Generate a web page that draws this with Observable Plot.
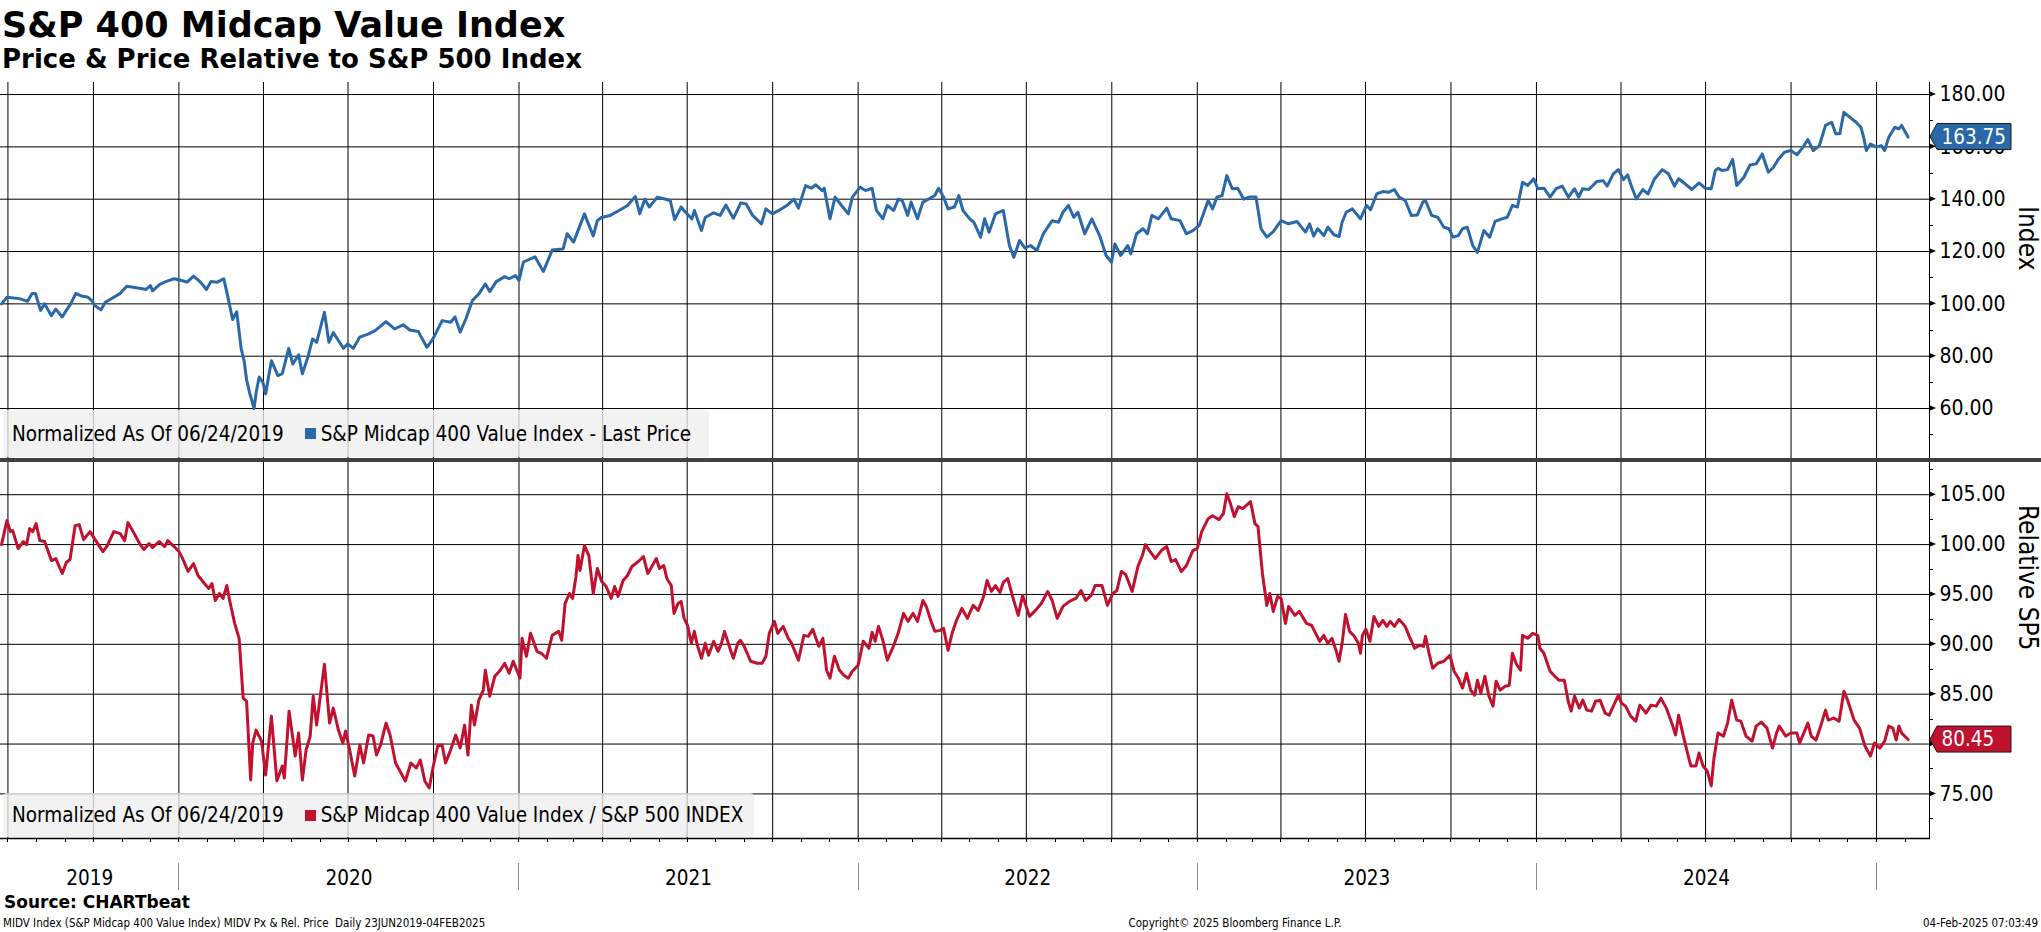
<!DOCTYPE html>
<html>
<head>
<meta charset="utf-8">
<script src="https://cdn.jsdelivr.net/npm/d3@7"></script>
<script src="https://cdn.jsdelivr.net/npm/@observablehq/plot@0.6"></script>
<style>
  html, body { margin: 0; padding: 0; background: #fff; overflow: hidden; }
  #page { position: relative; width: 2041px; height: 932px; background: #fff; }
  .abs { position: absolute; white-space: pre; line-height: 1; color: #000; }
  .cond { font-family: "DejaVu Sans Condensed", "DejaVu Sans", sans-serif; font-stretch: condensed; }
  .bold { font-family: "DejaVu Sans", sans-serif; font-weight: bold; }
  .legend { position: absolute; background: rgba(238,238,238,0.78); border-radius: 4px; display: flex; align-items: center; }
  .legend .sw { display: inline-block; width: 11px; height: 11px; margin: 0 5px 0 21px; }
  #page svg { position: absolute; left: 0; max-width: none; }
</style>
</head>
<body>
<div id="page">
  <div class="abs bold" style="left:2px; top:7.7px; font-size:35px;">S&amp;P 400 Midcap Value Index</div>
  <div class="abs bold" style="left:2px; top:46.3px; font-size:26px;">Price &amp; Price Relative to S&amp;P 500 Index</div>
  <div id="topChart"></div>
  <div id="bottomChart"></div>
  <div class="legend cond" style="left:3px; top:410px; width:706px; height:47px; font-size:20.5px;">
    <span style="margin-left:9px">Normalized As Of 06/24/2019</span><span class="sw" style="background:#2a68a8"></span><span>S&amp;P Midcap 400 Value Index - Last Price</span>
  </div>
  <div class="legend cond" style="left:3px; top:793px; width:751px; height:44px; font-size:20.5px;">
    <span style="margin-left:9px">Normalized As Of 06/24/2019</span><span class="sw" style="background:#c0112f"></span><span>S&amp;P Midcap 400 Value Index / S&amp;P 500 INDEX</span>
  </div>
  <div style="position:absolute; left:0; top:457.5px; width:2041px; height:4px; background:#404040;"></div>
  <div class="abs bold" style="left:4px; top:893.6px; font-size:17px;">Source: CHARTbeat</div>
  <div class="abs cond" style="left:3px; top:917.5px; font-size:11.5px;">MIDV Index (S&amp;P Midcap 400 Value Index) MIDV Px &amp; Rel. Price  Daily 23JUN2019-04FEB2025</div>
  <div class="abs cond" style="left:1235px; top:917.5px; font-size:11.5px; transform:translateX(-50%);">Copyright© 2025 Bloomberg Finance L.P.</div>
  <div class="abs cond" style="right:3px; top:917.5px; font-size:11.5px;">04-Feb-2025 07:03:49</div>
</div>
<script>
// ---------- DATA (dates as decimal years) ----------
const priceTime = [
2019.477,2019.493,2019.529,2019.554,2019.567,2019.577,2019.592,2019.604,2019.624,2019.637,2019.656,2019.668,2019.681,2019.696,2019.713,2019.732,2019.745,2019.751,2019.770,2019.783,2019.808,2019.827,2019.846,2019.884,2019.903,2019.916,2019.922,2019.942,2019.961,2019.986,
2020.000,2020.024,2020.043,2020.062,2020.081,2020.094,2020.113,2020.132,2020.145,2020.158,2020.170,2020.183,2020.192,2020.199,2020.208,2020.221,2020.227,2020.236,2020.247,2020.255,2020.272,2020.291,2020.304,2020.323,2020.335,2020.352,2020.363,2020.380,2020.393,2020.405,2020.428,2020.441,2020.454,2020.469,2020.484,2020.496,2020.513,2020.532,2020.558,2020.577,2020.609,2020.634,2020.659,2020.679,2020.704,2020.729,2020.747,2020.774,2020.799,2020.812,2020.827,2020.844,2020.863,2020.882,2020.901,2020.914,2020.933,2020.958,2020.971,2020.990,
2021.000,2021.013,2021.047,2021.072,2021.098,2021.130,2021.142,2021.161,2021.193,2021.219,2021.231,2021.243,2021.269,2021.295,2021.320,2021.343,2021.356,2021.371,2021.384,2021.408,2021.433,2021.446,2021.459,2021.478,2021.491,2021.510,2021.517,2021.538,2021.549,2021.574,2021.593,2021.610,2021.632,2021.654,2021.670,2021.689,2021.715,2021.728,2021.747,2021.766,2021.792,2021.811,2021.824,2021.845,2021.862,2021.875,2021.894,2021.900,2021.917,2021.932,2021.951,2021.971,2021.983,
2022.006,2022.022,2022.041,2022.054,2022.073,2022.086,2022.105,2022.118,2022.130,2022.146,2022.156,2022.175,2022.191,2022.207,2022.226,2022.237,2022.252,2022.265,2022.284,2022.297,2022.309,2022.329,2022.341,2022.361,2022.373,2022.386,2022.405,2022.428,2022.446,2022.459,2022.476,2022.492,2022.508,2022.527,2022.546,2022.572,2022.591,2022.604,2022.620,2022.636,2022.648,2022.668,2022.689,2022.712,2022.731,2022.747,2022.757,2022.774,2022.795,2022.804,2022.821,2022.840,2022.853,2022.866,2022.885,2022.910,2022.923,2022.949,2022.968,2022.987,
2023.006,2023.032,2023.045,2023.058,2023.073,2023.087,2023.103,2023.119,2023.137,2023.153,2023.173,2023.188,2023.205,2023.224,2023.247,2023.269,2023.294,2023.319,2023.331,2023.343,2023.355,2023.373,2023.385,2023.403,2023.418,2023.427,2023.439,2023.457,2023.481,2023.499,2023.511,2023.529,2023.547,2023.565,2023.581,2023.595,2023.613,2023.631,2023.649,2023.665,2023.673,2023.691,2023.709,2023.727,2023.742,2023.754,2023.770,2023.782,2023.796,2023.812,2023.826,2023.845,2023.862,2023.878,2023.898,2023.914,2023.929,2023.944,2023.959,2023.974,2023.992,
2024.004,2024.022,2024.040,2024.058,2024.076,2024.094,2024.112,2024.124,2024.136,2024.154,2024.178,2024.196,2024.208,2024.226,2024.241,2024.256,2024.268,2024.282,2024.294,2024.313,2024.328,2024.346,2024.370,2024.388,2024.406,2024.418,2024.438,2024.457,2024.478,2024.496,2024.514,2024.526,2024.534,2024.546,2024.562,2024.577,2024.589,2024.610,2024.628,2024.646,2024.664,2024.682,2024.697,2024.712,2024.730,2024.748,2024.766,2024.784,2024.798,2024.814,2024.832,2024.850,2024.868,2024.880,2024.892,2024.904,2024.922,2024.940,2024.954,2024.962,2024.970,2024.982,
2025.000,2025.014,2025.024,2025.036,2025.054,2025.066,2025.074,2025.093];
const priceValue = [
100,102.5,102,101,104,104,97.5,100,95.5,98,95,97.5,100,104,103,102.5,101,99.5,97.7,100.6,102.5,104,106.7,106,105.5,107,105,107.3,108.5,109.6,
109.2,108.3,110.6,108.5,105.5,108.5,108.3,109.6,102,94,97,83,78,71,66,60,66,72,70,65.6,78.3,72.6,73.3,83,77,80.5,73.3,80,86.6,85.3,96.8,85.3,89,86,83,84.7,83,87.3,88.5,89.8,93.2,90.4,92,90,89.4,83.4,86.6,93.6,93,95,89.2,94.3,101.3,103.8,107.6,104.7,108.5,110.4,109.6,110.8,
109,116,118,112.4,120.6,121,126.8,123.6,134.4,126,131.8,133,133.8,135.7,137.6,141,134.4,140,137,140.8,140,139.5,132.2,137,135,132.5,135.7,128,133,134.8,133.8,137.8,132.7,138.6,138.2,133.8,130.6,136.3,134.4,135.7,137.8,140,136.6,145.2,144.2,145.5,143.3,144.2,132.5,140.8,137.6,134.4,140.8,
144.6,143.3,144.2,135.7,132.5,137.6,135.7,140,139.5,133.8,138.9,132.5,138.9,140,141.4,144.2,140.8,136.3,137,141.4,135.7,132.5,131.2,125.5,132.5,127.4,134.4,135.7,122.3,117.8,124.2,121.3,122.3,120.4,126.8,131.8,131.2,135,137.6,133.1,135,126.8,132.5,126.1,118.5,115.9,122.9,118.5,122.3,119.1,126.8,128.7,126.8,133.8,132.5,136.6,132.5,131.8,126.8,128,
130,139.5,136.3,140.8,141.4,149,144,144.2,140,140.8,140.8,128.7,125.5,127.6,131.8,130.6,131.5,127.4,130.6,125.9,128.7,126.1,129.3,126.4,125.7,131.2,135,136.3,132.5,137.6,136,142,142.9,142.7,143.7,140.8,139.5,133.8,134,138.9,139.5,133.8,133.1,129.3,128.7,125.5,126.1,128.7,129.3,122.3,119.7,128,125.5,131.5,132.5,133.1,137.6,137,146.5,145.2,147.8,
144,144.2,140.8,144,145,140.8,144,140.8,144,143.7,146.8,147.1,145,149.7,151.3,147.5,149.3,144,140.1,143.7,142,147.5,151.3,149.7,145,147.8,145.8,143.7,146.2,144.2,144,151,151.8,151,151.3,155.2,145.2,148.4,153.1,153.5,157.3,150.3,152.2,155.4,158,158.6,157,159.9,162.8,158.6,160.5,168.2,169.4,165,165,173.2,171.3,169.4,167.5,163.7,158.6,161.1,
159.9,160.5,158.6,163.7,167.5,166.9,168.2,163.75];

const relTime = [
2019.477,2019.493,2019.503,2019.510,2019.526,2019.541,2019.551,2019.560,2019.569,2019.579,2019.590,2019.604,2019.624,2019.637,2019.656,2019.668,2019.679,2019.694,2019.706,2019.719,2019.738,2019.751,2019.776,2019.789,2019.808,2019.827,2019.840,2019.850,2019.865,2019.884,2019.897,2019.912,2019.922,2019.942,2019.958,2019.967,2019.986,
2020.000,2020.011,2020.027,2020.043,2020.056,2020.075,2020.088,2020.097,2020.107,2020.119,2020.130,2020.141,2020.151,2020.164,2020.177,2020.189,2020.199,2020.211,2020.217,2020.227,2020.243,2020.255,2020.272,2020.288,2020.304,2020.310,2020.324,2020.342,2020.352,2020.363,2020.374,2020.386,2020.395,2020.405,2020.418,2020.428,2020.443,2020.454,2020.469,2020.482,2020.490,2020.501,2020.517,2020.532,2020.543,2020.558,2020.571,2020.581,2020.593,2020.609,2020.621,2020.637,2020.653,2020.666,2020.682,2020.698,2020.710,2020.723,2020.736,2020.748,2020.761,2020.774,2020.784,2020.799,2020.814,2020.827,2020.840,2020.850,2020.860,2020.869,2020.882,2020.895,2020.901,2020.914,2020.929,2020.945,2020.958,2020.971,2020.983,
2021.003,2021.009,2021.022,2021.034,2021.053,2021.066,2021.081,2021.098,2021.117,2021.126,2021.136,2021.149,2021.158,2021.168,2021.174,2021.180,2021.193,2021.206,2021.219,2021.231,2021.244,2021.257,2021.272,2021.282,2021.292,2021.307,2021.320,2021.333,2021.352,2021.367,2021.380,2021.405,2021.414,2021.427,2021.436,2021.449,2021.457,2021.469,2021.478,2021.487,2021.497,2021.508,2021.517,2021.526,2021.538,2021.549,2021.559,2021.574,2021.587,2021.597,2021.606,2021.619,2021.632,2021.645,2021.653,2021.664,2021.683,2021.702,2021.717,2021.728,2021.738,2021.753,2021.763,2021.779,2021.794,2021.804,2021.824,2021.840,2021.853,2021.866,2021.884,2021.896,2021.907,2021.917,2021.930,2021.945,2021.958,2021.971,2021.983,
2022.000,2022.015,2022.032,2022.041,2022.050,2022.060,2022.073,2022.086,2022.105,2022.118,2022.134,2022.147,2022.162,2022.175,2022.191,2022.201,2022.214,2022.226,2022.242,2022.252,2022.265,2022.277,2022.290,2022.306,2022.322,2022.339,2022.354,2022.370,2022.380,2022.393,2022.405,2022.418,2022.428,2022.441,2022.457,2022.472,2022.485,2022.505,2022.523,2022.540,2022.559,2022.572,2022.587,2022.604,2022.623,2022.642,2022.657,2022.671,2022.687,2022.699,2022.719,2022.735,2022.751,2022.763,2022.776,2022.789,2022.808,2022.825,2022.838,2022.847,2022.859,2022.876,2022.894,2022.910,2022.923,2022.936,2022.953,2022.968,2022.987,
2023.000,2023.013,2023.032,2023.045,2023.064,2023.077,2023.087,2023.096,2023.109,2023.121,2023.134,2023.157,2023.170,2023.179,2023.192,2023.205,2023.214,2023.224,2023.237,2023.247,2023.260,2023.269,2023.288,2023.301,2023.322,2023.337,2023.349,2023.361,2023.373,2023.385,2023.397,2023.409,2023.418,2023.427,2023.437,2023.449,2023.463,2023.475,2023.481,2023.487,2023.497,2023.509,2023.521,2023.535,2023.547,2023.559,2023.569,2023.581,2023.595,2023.613,2023.625,2023.641,2023.655,2023.667,2023.673,2023.682,2023.694,2023.709,2023.727,2023.745,2023.757,2023.770,2023.782,2023.794,2023.806,2023.818,2023.826,2023.836,2023.848,2023.860,2023.872,2023.881,2023.893,2023.908,2023.920,2023.929,2023.941,2023.953,2023.959,2023.974,2023.989,
2024.004,2024.010,2024.022,2024.040,2024.054,2024.066,2024.082,2024.094,2024.102,2024.112,2024.126,2024.136,2024.148,2024.162,2024.174,2024.187,2024.202,2024.214,2024.226,2024.241,2024.250,2024.262,2024.277,2024.292,2024.304,2024.322,2024.337,2024.352,2024.366,2024.382,2024.400,2024.409,2024.418,2024.430,2024.442,2024.454,2024.469,2024.478,2024.490,2024.502,2024.514,2024.522,2024.534,2024.550,2024.562,2024.574,2024.589,2024.601,2024.616,2024.634,2024.646,2024.661,2024.678,2024.694,2024.706,2024.714,2024.733,2024.748,2024.766,2024.774,2024.786,2024.798,2024.808,2024.822,2024.834,2024.850,2024.858,2024.874,2024.890,2024.904,2024.916,2024.934,2024.950,2024.966,2024.982,2024.994,
2025.010,2025.024,2025.036,2025.048,2025.058,2025.066,2025.074,2025.093];
const relValue = [
100,102.4,101.3,101.4,99.6,100.3,100,101.6,101.3,102.1,100.4,100.3,98.4,98.6,97.1,98.2,98.5,101.9,102,100.5,101.3,100.6,99.3,99.9,101.3,101.1,100.4,102.2,101.3,100.1,99.5,100.1,99.7,100.3,99.8,100.4,99.8,
99.3,98.6,97.3,98.1,96.9,96.1,95.6,96.1,94.4,95.1,94.6,95.9,94.1,92.1,90.6,84.6,84.3,76.4,80.1,81.4,80.3,76.9,82.8,76.3,77.8,76.6,83.3,78.8,81.1,76.4,79.4,80.8,84.8,81.9,85.4,88,82.1,83.6,81.4,80.1,81.3,79.6,76.8,79.9,78.1,80.9,80.8,78.9,79.9,82.1,80.9,78.1,77.1,76.3,78.1,77.6,78.4,76.3,75.6,77.8,79.8,79.9,78.1,79.4,80.9,79.6,81.9,78.9,83.9,81.9,84.4,85.4,87.4,84.8,86.8,87.4,88.1,87.1,88.3,
86.6,90.6,88.8,91.1,89.3,89.1,88.6,90.9,91.3,90.4,94.1,95.1,94.6,96.8,98.9,97.4,99.9,98.9,95.1,97.6,96.3,95.8,94.6,95.8,94.8,96.4,96.9,97.8,98.3,98.8,97.1,98.6,97.6,97.9,96.6,95.9,93.1,94.1,94.3,92.6,91.9,90.1,91.3,89.9,88.6,90.1,88.9,90.3,89.3,90.1,91.3,89.9,88.6,90.1,90.4,89.8,88.3,88.1,88.1,88.8,91.1,92.3,91.1,91.8,90.6,90.1,88.4,90.9,90.8,91.5,89.8,90.6,87.4,86.6,88.8,87.4,86.9,86.6,87.3,
87.9,90.3,89.6,91.2,90.3,91.8,90.4,88.4,89.9,91.1,93.1,92.3,93.1,92.3,94.4,93.8,92.4,91.3,91.4,91.6,89.4,91.1,92.4,93.6,92.6,93.9,93.4,94.8,96.4,95.3,95.9,95.2,96.2,96.6,94.6,92.9,94.9,92.8,93.4,94.1,95.3,94.4,92.6,93.8,94.3,94.6,95.4,94.4,94.9,95.9,95.9,93.9,95.1,95.4,97.3,97,95.3,97.8,98.9,100,99.4,98.6,99.4,99.8,98.3,98.5,97.3,97.9,99.4,
99.6,101.3,102.6,102.9,102.5,103.1,105.1,104.3,102.8,103.8,103.6,104.3,102.1,101.8,97.1,93.9,95.1,93.3,94.8,94.6,92.1,93.8,92.9,93.3,92.1,91.9,91.1,90.3,90.9,90.1,90.6,89.4,88.3,90.1,93,91.3,90.8,90.1,89.1,90.9,91.5,90.3,92.8,91.8,92.4,91.8,92.3,91.8,92.5,91.8,90.8,89.6,89.9,89.8,90.8,89.3,87.6,88.1,88.3,88.9,87.3,86.6,85.6,87.1,85.4,84.9,86.4,85.1,86.8,84.8,83.8,86.3,85.4,85.8,85.9,89.1,88,87.4,90.9,90.6,91.1,
90.9,89.6,89.1,87.3,86.8,86.4,86.4,84.2,83.3,84.8,83.6,84.4,83.4,83.3,84.3,84.4,83.1,82.9,83.8,84.9,84.1,83.8,82.8,82.3,83.9,83.1,83.9,83.8,84.6,83.6,81.9,80.9,82.9,81.1,79.4,77.8,77.8,79.1,77.8,77.3,75.8,78.6,81.1,80.8,82.1,84.4,82.4,82.3,80.8,80.3,81.8,82.2,81.6,79.6,81.1,81.8,80.8,81.1,81.1,80.1,81.1,82.1,80.8,80.4,81.6,83.4,82.4,82.6,82.3,85.3,84.3,82.4,81.6,79.8,78.8,80.1,
79.6,80.3,81.8,81.6,80.4,81.8,81.1,80.45];

const priceTicks = [60, 80, 100, 120, 140, 160, 180];
const priceMinorTicks = [50, 70, 90, 110, 130, 150, 170];
const relTicks = [75, 80, 85, 90, 95, 100, 105];
const relMinorTicks = [72.5, 77.5, 82.5, 87.5, 92.5, 97.5, 102.5, 107.5];
const yearLabels = [2019, 2020, 2021, 2022, 2023, 2024];
const priceLast = 163.75;
const relLast = 80.45;

// ---------- helpers ----------
const BLUE = "#2a68a8", RED = "#c0112f";
const FONT = '"DejaVu Sans Condensed", "DejaVu Sans", sans-serif';
const xStart = new Date(Date.UTC(2019, 5, 23));
const xEnd = new Date(Date.UTC(2025, 1, 27));
function toDate(t) {
  const yr = Math.floor(t);
  const a = Date.UTC(yr, 0, 1), b = Date.UTC(yr + 1, 0, 1);
  return new Date(a + (t - yr) * (b - a));
}
const priceData = priceTime.map((t, i) => ({date: toDate(t), value: priceValue[i]}));
const relData = relTime.map((t, i) => ({date: toDate(t), value: relValue[i]}));
const quarters = d3.utcMonth.every(3).range(xStart, xEnd);
const months = d3.utcMonth.range(xStart, xEnd);
const yearStarts = d3.utcYear.range(d3.utcDay.offset(xStart, 1), xEnd);
const yearCenters = yearLabels.map(y => {
  const a = Math.max(+xStart, Date.UTC(y, 0, 1)), b = Math.min(+xEnd, Date.UTC(y + 1, 0, 1));
  return new Date((a + b) / 2);
});

const W = 2041, MR = 112, PH = 376;

function decor(majors, minors, last, color, bottomLine) {
  return (index, scales, values, dims) => {
    const {width, height, marginRight, marginTop, marginBottom} = dims;
    const x0 = width - marginRight;
    const yb = height - marginBottom;
    const g = d3.create("svg:g");
    g.append("line").attr("x1", x0 + 0.5).attr("x2", x0 + 0.5).attr("y1", marginTop).attr("y2", yb)
      .attr("stroke", "#000").attr("stroke-width", 1);
    if (bottomLine) {
      g.append("line").attr("x1", 0).attr("x2", x0 + 1).attr("y1", yb + 0.5).attr("y2", yb + 0.5)
        .attr("stroke", "#000").attr("stroke-width", 1.5);
      for (const m of months) {
        const xx = Math.round(scales.x(m)) + 0.5;
        g.append("line").attr("x1", xx).attr("x2", xx).attr("y1", yb).attr("y2", yb + 4).attr("stroke", "#000");
      }
      for (const ys of yearStarts) {
        const xx = Math.round(scales.x(ys)) + 0.5;
        g.append("line").attr("x1", xx).attr("x2", xx).attr("y1", yb + 25).attr("y2", yb + 52)
          .attr("stroke", "#8c8c8c").attr("stroke-width", 1);
      }
    }
    for (const v of majors) {
      const yy = scales.y(v);
      g.append("path").attr("d", `M${x0},${yy - 3}L${x0 + 7},${yy}L${x0},${yy + 3}Z`).attr("fill", "#000");
    }
    for (const v of minors) {
      const yy = Math.round(scales.y(v)) + 0.5;
      if (yy < marginTop || yy > yb) continue;
      g.append("line").attr("x1", x0).attr("x2", x0 + 4).attr("y1", yy).attr("y2", yy).attr("stroke", "#000");
    }
    const ly = scales.y(last);
    g.append("path")
      .attr("d", `M${x0 + 1},${ly}L${x0 + 8},${ly - 13}H${x0 + 82}V${ly + 13}H${x0 + 8}Z`)
      .attr("fill", color).attr("stroke", "#1a1a1a").attr("stroke-width", 1);
    g.append("text").attr("x", x0 + 12.5).attr("y", ly).attr("dy", "0.36em")
      .attr("text-anchor", "start")
      .attr("fill", "#fff").attr("font-size", 20.5).attr("font-family", FONT).attr("font-stretch", "condensed")
      .text(last.toFixed(2));
    return g.node();
  };
}

const common = {
  width: W,
  marginLeft: 0,
  marginRight: MR,
  marginTop: 0,
  style: {fontFamily: FONT, fontStretch: "condensed", fontSize: "21px", color: "#000", background: "transparent", overflow: "visible", maxWidth: "none"}
};

const topPlot = Plot.plot({
  ...common,
  height: PH,
  marginBottom: 0,
  x: {type: "utc", domain: [xStart, xEnd], axis: null},
  y: {domain: [40.9, 184.6]},
  marks: [
    Plot.gridX({ticks: quarters, stroke: "#000", strokeOpacity: 1, strokeWidth: 1}),
    Plot.gridY({ticks: priceTicks, stroke: "#000", strokeOpacity: 1, strokeWidth: 1}),
    Plot.axisY({anchor: "right", ticks: priceTicks, tickSize: 0, tickPadding: 10, tickFormat: d3.format(".2f"), label: null, fontSize: 21}),
    Plot.line(priceData, {x: "date", y: "value", stroke: BLUE, strokeWidth: 3, strokeLinejoin: "round"}),
    Plot.text(["Index"], {text: d => d, frameAnchor: "right", dx: 98, rotate: 90, fontSize: 26}),
    decor(priceTicks, priceMinorTicks, priceLast, BLUE, false)
  ]
});
topPlot.style.top = "82px";
document.getElementById("topChart").append(topPlot);

const bottomPlot = Plot.plot({
  ...common,
  height: 470,
  marginBottom: 470 - PH,
  x: {type: "utc", domain: [xStart, xEnd]},
  y: {domain: [70.53, 108.23]},
  marks: [
    Plot.gridX({ticks: quarters, stroke: "#000", strokeOpacity: 1, strokeWidth: 1}),
    Plot.gridY({ticks: relTicks, stroke: "#000", strokeOpacity: 1, strokeWidth: 1}),
    Plot.axisY({anchor: "right", ticks: relTicks, tickSize: 0, tickPadding: 10, tickFormat: d3.format(".2f"), label: null, fontSize: 21}),
    Plot.axisX({ticks: yearCenters, tickSize: 0, tickPadding: 32, tickFormat: d => String(d.getUTCFullYear()), label: null, fontSize: 20.5}),
    Plot.line(relData, {x: "date", y: "value", stroke: RED, strokeWidth: 3, strokeLinejoin: "round"}),
    Plot.text(["Relative SP5"], {text: d => d, frameAnchor: "right", dx: 98, rotate: 90, fontSize: 26}),
    decor(relTicks, relMinorTicks, relLast, RED, true)
  ]
});
bottomPlot.style.top = "462px";
document.getElementById("bottomChart").append(bottomPlot);
</script>
</body>
</html>
